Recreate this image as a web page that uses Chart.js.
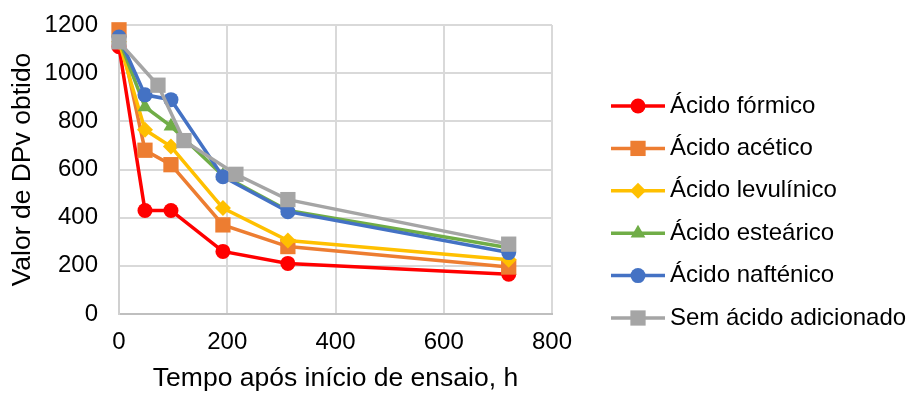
<!DOCTYPE html>
<html>
<head>
<meta charset="utf-8">
<title>DPv</title>
<script src="https://cdn.jsdelivr.net/npm/chart.js@4.4.1/dist/chart.umd.min.js"></script>
<style>
    html, body { margin: 0; padding: 0; background: #fff; }
    #contenedorGrafico { width: 907px; height: 394px; }
</style>
</head>
<body>
<div id="contenedorGrafico"><canvas id="graficoDPv" width="907" height="394"></canvas></div>
<script>
// tempos de ensaio (h)
var tempoAcidos = [0, 48, 96, 192, 312, 720];
var tempoSemAcido = [0, 72, 120, 216, 312, 720];

// valores de DPv por serie
var formico = [1110, 430, 430, 260, 210, 165];
var acetico = [1180, 680, 620, 370, 280, 195];
var levulinico = [1130, 765, 695, 440, 305, 225];
var estearico = [1140, 860, 780, 575, 430, 275];
var naftenico = [1150, 910, 890, 570, 425, 255];
var semAcido = [1130, 950, 720, 580, 475, 290];

var nomes = ['Ácido fórmico', 'Ácido acético', 'Ácido levulínico', 'Ácido esteárico', 'Ácido nafténico', 'Sem ácido adicionado'];
var ticksX = [0, 200, 400, 600, 800];
var ticksY = [0, 200, 400, 600, 800, 1000, 1200];

var fonte = '"Liberation Sans", Arial, sans-serif';

function pontos(xs, ys) {
    var arr = [];
    for (var i = 0; i < xs.length; i++) {
        arr.push({ x: xs[i], y: ys[i] });
    }
    return arr;
}

function serie(nome, xs, ys, cor, estilo, raio, ordem) {
    return {
        label: nome,
        data: pontos(xs, ys),
        borderColor: cor,
        backgroundColor: cor,
        pointBackgroundColor: cor,
        pointBorderColor: cor,
        pointBorderWidth: 0,
        borderWidth: 3.5,
        pointStyle: estilo,
        pointRadius: raio,
        pointHoverRadius: raio,
        showLine: true,
        tension: 0,
        clip: false,
        order: ordem
    };
}

// legenda desenhada a mao: linha + marcador + texto
var legendaLateral = {
    id: 'legendaLateral',
    afterDraw: function (chart) {
        var ctx = chart.ctx;
        var topo = 106, passo = 42.4;
        ctx.save();
        chart.data.datasets.forEach(function (ds, i) {
            var y = topo + i * passo;
            ctx.strokeStyle = ds.borderColor;
            ctx.lineWidth = ds.borderWidth;
            ctx.beginPath();
            ctx.moveTo(611, y);
            ctx.lineTo(665, y);
            ctx.stroke();
            ctx.fillStyle = ds.pointBackgroundColor;
            Chart.helpers.drawPoint(ctx, { pointStyle: ds.pointStyle, radius: ds.pointRadius, borderWidth: 0, rotation: 0 }, 638, y);
            ctx.fillStyle = '#000';
            ctx.font = '24px ' + fonte;
            ctx.textAlign = 'left';
            ctx.textBaseline = 'middle';
            ctx.fillText(ds.label, 670, y);
        });
        ctx.restore();
    }
};

var ctx = document.getElementById('graficoDPv').getContext('2d');
var chart = new Chart(ctx, {
    type: 'scatter',
    data: {
        datasets: [
            serie(nomes[0], tempoAcidos, formico, '#FF0000', 'circle', 7.5, 5),
            serie(nomes[1], tempoAcidos, acetico, '#ED7D31', 'rect', 10.8, 4),
            serie(nomes[2], tempoAcidos, levulinico, '#FFC000', 'rectRot', 8, 3),
            serie(nomes[3], tempoAcidos, estearico, '#70AD47', 'triangle', 8.5, 2),
            serie(nomes[4], tempoAcidos, naftenico, '#4472C4', 'circle', 7.5, 1),
            serie(nomes[5], tempoSemAcido, semAcido, '#A5A5A5', 'rect', 10.8, 0)
        ]
    },
    options: {
        responsive: false,
        animation: false,
        devicePixelRatio: 1,
        layout: { padding: { top: 25, right: 355, left: 0, bottom: 0 } },
        plugins: {
            legend: { display: false },
            tooltip: { enabled: false }
        },
        scales: {
            x: {
                type: 'linear',
                min: 0,
                max: 800,
                afterBuildTicks: function (scale) {
                    scale.ticks = ticksX.map(function (v) { return { value: v }; });
                },
                afterFit: function (scale) {
                    scale.height = 80;
                    scale.paddingLeft = 0;
                    scale.paddingRight = 0;
                },
                grid: { color: '#D9D9D9', lineWidth: 2, drawTicks: false },
                border: { color: '#BFBFBF', width: 2 },
                ticks: {
                    color: '#000', padding: 14, font: { family: fonte, size: 24 },
                    callback: function (v) { return String(v); }
                },
                title: {
                    display: true,
                    text: 'Tempo após início de ensaio, h',
                    color: '#000',
                    font: { family: fonte, size: 26.5 },
                    padding: { top: 0, bottom: -1 }
                }
            },
            y: {
                type: 'linear',
                min: 0,
                max: 1200,
                afterBuildTicks: function (scale) {
                    scale.ticks = ticksY.map(function (v) { return { value: v }; });
                },
                afterFit: function (scale) {
                    scale.width = 119;
                    scale.paddingTop = 0;
                    scale.paddingBottom = 0;
                },
                grid: { color: '#D9D9D9', lineWidth: 2, drawTicks: false },
                border: { color: '#D0D0D0', width: 2 },
                ticks: {
                    color: '#000', padding: 21, font: { family: fonte, size: 24 },
                    callback: function (v) { return String(v); }
                },
                title: {
                    display: true,
                    text: 'Valor de DPv obtido',
                    color: '#000',
                    font: { family: fonte, size: 26.5 },
                    padding: { top: 7, bottom: 0 }
                }
            }
        }
    },
    plugins: [legendaLateral]
});
</script>
</body>
</html>
